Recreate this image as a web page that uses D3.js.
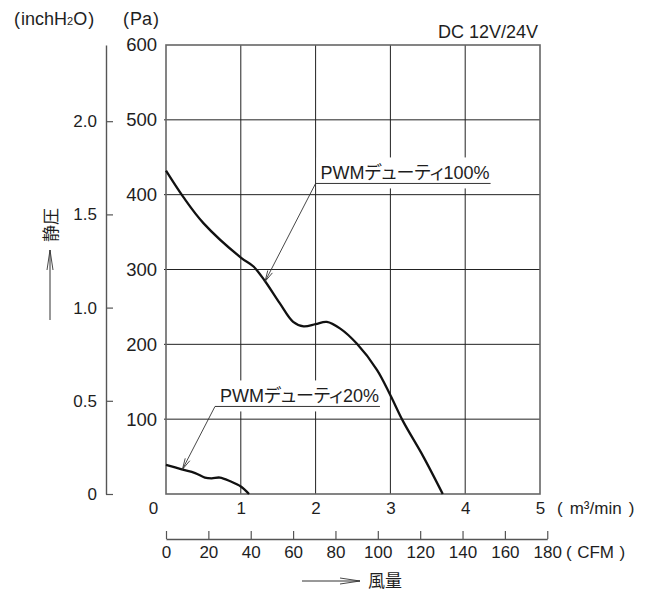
<!DOCTYPE html>
<html>
<head>
<meta charset="utf-8">
<script src="https://cdn.jsdelivr.net/npm/d3@7"></script>
<style>
  body { margin: 0; background: #fff; }
  svg text { font-family: "Liberation Sans", "Noto Sans CJK JP", sans-serif; fill: #1e1e1e; }
  .jp { font-feature-settings: "palt"; }
</style>
</head>
<body>
<div id="chart"></div>
<script>
// flow in m3/min, static pressure in Pa
const flow100 = [0, 0.23, 0.5, 1.0, 1.17, 1.32, 1.52, 1.70, 1.84, 2.0, 2.15, 2.33, 2.55, 2.82, 3.0, 3.17, 3.44, 3.70];
const pres100 = [432, 397, 362, 316, 304, 285, 255, 230, 224, 227, 230, 221, 201, 166, 132, 97, 50, 0];
const flow20 = [0, 0.21, 0.39, 0.52, 0.61, 0.72, 0.86, 1.0, 1.11];
const pres20 = [39, 33, 28, 22, 21, 22, 17, 10, 0];

const flowTicks = [0, 1, 2, 3, 4, 5];
const paTicks = [100, 200, 300, 400, 500, 600];
const inchTicks = [0, 0.5, 1.0, 1.5, 2.0];
const cfmTicks = [0, 20, 40, 60, 80, 100, 120, 140, 160, 180];

// annotations: label, where the leader starts (under the text) and where it points
const notes = [
  { label: "PWMデューティ100%", from: [2.0, 415], to: [1.324, 284] },
  { label: "PWMデューティ20%", from: [0.655, 117], to: [0.22, 33] }
];

const PA_PER_INCH = 249.089;
const CFM_PER_M3 = 35.3147;

const width = 647, height = 590;
const plotL = 166, plotR = 540, plotT = 45, plotB = 494;
const FS = "18px", FS_TICK = "17px";

const svg = d3.select("#chart").append("svg")
  .attr("width", width).attr("height", height);

const x = d3.scaleLinear().domain([0, 5]).range([plotL, plotR]);
const y = d3.scaleLinear().domain([0, 600]).range([plotB, plotT]);
const yIn = d3.scaleLinear().domain([0, 600 / PA_PER_INCH]).range([plotB, plotT]);
const xCfm = d3.scaleLinear().domain([0, 180])
  .range([plotL, x(180 / CFM_PER_M3)]);

// grid
svg.append("g").selectAll("line")
  .data(flowTicks.slice(1, 5))
  .join("line")
  .attr("x1", d => x(d)).attr("x2", d => x(d))
  .attr("y1", plotT).attr("y2", plotB)
  .attr("stroke", "#222").attr("stroke-width", 1);

svg.append("g").selectAll("line")
  .data(paTicks.slice(0, 5))
  .join("line")
  .attr("x1", plotL - 2).attr("x2", plotR)
  .attr("y1", d => y(d)).attr("y2", d => y(d))
  .attr("stroke", "#222").attr("stroke-width", 1);

svg.append("rect")
  .attr("x", plotL).attr("y", plotT)
  .attr("width", plotR - plotL).attr("height", plotB - plotT)
  .attr("fill", "none").attr("stroke", "#666").attr("stroke-width", 1.6);

// Pa axis labels
const paAxis = svg.append("g")
  .attr("transform", `translate(${plotL},0)`)
  .call(d3.axisLeft(y).tickValues(paTicks).tickSize(0).tickPadding(9));
paAxis.select(".domain").remove();

// inchH2O axis
const inAxis = svg.append("g")
  .attr("transform", "translate(106,0)")
  .call(d3.axisLeft(yIn).tickValues(inchTicks).tickSize(-7).tickSizeOuter(0).tickPadding(9)
    .tickFormat(d => d === 0 ? "0" : d.toFixed(1)));

// m3/min axis labels
const flowAxis = svg.append("g")
  .attr("transform", `translate(0,${plotB})`)
  .call(d3.axisBottom(x).tickValues(flowTicks).tickSize(0).tickPadding(8)
    .tickFormat(d3.format("d")));
flowAxis.select(".domain").remove();
flowAxis.selectAll(".tick").filter(d => d === 0).select("text").attr("x", -13);

// CFM axis
const cfmAxis = svg.append("g")
  .attr("transform", "translate(0,539)")
  .call(d3.axisBottom(xCfm).tickValues(cfmTicks).tickSize(-8).tickSizeOuter(0).tickPadding(7));

[inAxis, flowAxis, cfmAxis, paAxis].forEach(g => {
  g.selectAll("text").style("font-size", g === paAxis ? "18.5px" : FS_TICK).attr("fill", "#1e1e1e");
  g.selectAll("line").attr("stroke", "#555").attr("stroke-width", 1.2);
  g.select(".domain").attr("stroke", "#555").attr("stroke-width", 1.4);
});

// curves
const line = d3.line()
  .x(d => x(d[0])).y(d => y(d[1]))
  .curve(d3.curveCatmullRom.alpha(0.5));

[[flow100, pres100], [flow20, pres20]].forEach(([f, p]) => {
  svg.append("path")
    .datum(f.map((v, i) => [v, p[i]]))
    .attr("d", line)
    .attr("fill", "none").attr("stroke", "#111").attr("stroke-width", 2.3);
});

// open arrowhead helper
function arrowHead(g, x1, y1, x2, y2, len, half) {
  const a = Math.atan2(y2 - y1, x2 - x1);
  const bx = x2 - len * Math.cos(a), by = y2 - len * Math.sin(a);
  const nx = -Math.sin(a) * half, ny = Math.cos(a) * half;
  g.append("path")
    .attr("d", `M${bx + nx},${by + ny}L${x2},${y2}L${bx - nx},${by - ny}`)
    .attr("fill", "none").attr("stroke", "#333").attr("stroke-width", 0.9);
}

// annotations
notes.forEach(n => {
  const g = svg.append("g");
  const sx = x(n.from[0]), sy = y(n.from[1]);
  const bg = g.append("rect").attr("fill", "#fff");
  const t = g.append("text")
    .attr("class", "jp")
    .attr("x", sx + 5).attr("y", sy - 4)
    .style("font-size", FS)
    .text(n.label);
  const w = t.node().getComputedTextLength();
  bg.attr("x", sx + 1).attr("y", sy - 26).attr("width", w + 6).attr("height", 31);
  g.append("line")
    .attr("x1", sx).attr("x2", sx + 5 + w + 1)
    .attr("y1", sy).attr("y2", sy)
    .attr("stroke", "#333").attr("stroke-width", 1);
  const tx = x(n.to[0]), ty = y(n.to[1]);
  g.append("line")
    .attr("x1", sx).attr("y1", sy).attr("x2", tx).attr("y2", ty)
    .attr("stroke", "#333").attr("stroke-width", 0.9);
  arrowHead(g, sx, sy, tx, ty, 11, 2.6);
});

// unit labels with loose parentheses
function unit(xPos, yPos, inner, gap, size) {
  const t = svg.append("text").attr("x", xPos).attr("y", yPos).style("font-size", size);
  t.append("tspan").text("(");
  inner.forEach((s, i) => {
    const ts = t.append("tspan").text(s.text);
    if (i === 0) ts.attr("dx", gap);
    if (s.small) ts.style("font-size", "11px");
  });
  t.append("tspan").attr("dx", gap).text(")");
  return t;
}

unit(14, 25, [{ text: "inchH" }, { text: "2", small: true }, { text: "O" }], 1, FS);
unit(123, 25, [{ text: "Pa" }], 1, FS);
unit(557, 514, [{ text: "m³/min" }], 7, FS_TICK);
unit(566, 558, [{ text: "CFM" }], 5.5, FS_TICK);

svg.append("text").attr("x", 538).attr("y", 38)
  .attr("text-anchor", "end").style("font-size", FS).text("DC 12V/24V");

// axis name arrows
const names = svg.append("g");
names.append("line").attr("x1", 302).attr("y1", 581).attr("x2", 360).attr("y2", 581)
  .attr("stroke", "#333").attr("stroke-width", 1);
arrowHead(names, 302, 581, 360, 581, 20, 3);
names.append("text").attr("class", "jp").attr("x", 368).attr("y", 587)
  .style("font-size", "17px").text("風量");

names.append("line").attr("x1", 50).attr("y1", 320).attr("x2", 50).attr("y2", 250)
  .attr("stroke", "#333").attr("stroke-width", 1);
arrowHead(names, 50, 320, 50, 250, 20, 3);
names.append("text").attr("class", "jp")
  .attr("transform", "translate(57,225) rotate(-90)")
  .attr("text-anchor", "middle")
  .style("font-size", "17px").text("静圧");
</script>
</body>
</html>
